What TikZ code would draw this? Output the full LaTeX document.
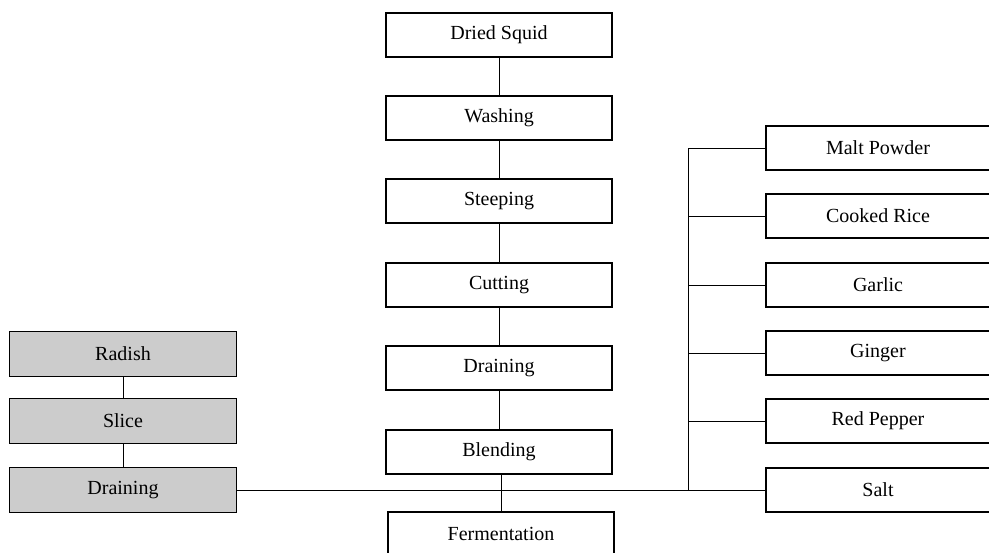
\documentclass[tikz,border=0pt]{standalone}
\usepackage{fontspec}
\setmainfont{Liberation Serif}
\usepackage{tikz}
\tikzset{
    every node/.style={font=\fontsize{15}{18}\selectfont},
    stagebox/.style={draw, rectangle, line width=0.9pt, minimum width=169.5pt, minimum height=33pt, inner sep=0pt},
    sidebox/.style={draw, rectangle, line width=0.9pt, fill=gray!40, minimum width=170pt, minimum height=34pt, inner sep=0pt},
    addbox/.style={draw, rectangle, line width=0.9pt, minimum width=168pt, minimum height=33pt, inner sep=0pt},
    link/.style={line width=0.7pt}
}

\begin{document}
\begin{tikzpicture}[x=0.75pt, y=-0.75pt]
        \useasboundingbox (0,0) rectangle (989,553);

        \node[stagebox] (squid) at (499,35) {Dried Squid};
        \node[stagebox] (washing) at (499,118) {Washing};
        \node[stagebox] (steeping) at (499,201) {Steeping};
        \node[stagebox] (cutting) at (499,285) {Cutting};
        \node[stagebox] (drain) at (499,368) {Draining};
        \node[stagebox] (blending) at (499,452) {Blending};
        \node[stagebox] (ferment) at (501,534) {Fermentation};

        \node[sidebox] (radish) at (123,354) {Radish};
        \node[sidebox] (slice) at (123,421) {Slice};
        \node[sidebox] (raddrain) at (123,490) {Draining};

        \node[addbox] (malt) at (878,148) {Malt Powder};
        \node[addbox] (rice) at (878,216) {Cooked Rice};
        \node[addbox] (garlic) at (878,285) {Garlic};
        \node[addbox] (ginger) at (878,353) {Ginger};
        \node[addbox] (pepper) at (878,421) {Red Pepper};
        \node[addbox] (salt) at (878,490) {Salt};

        \coordinate (bus) at (688,490);
        \coordinate (mix) at (501,490);

        \draw[link] (squid) -- (washing);
        \draw[link] (washing) -- (steeping);
        \draw[link] (steeping) -- (cutting);
        \draw[link] (cutting) -- (drain);
        \draw[link] (drain) -- (blending);
        \draw[link] (blending.south -| mix) -- (ferment);

        \draw[link] (radish) -- (slice);
        \draw[link] (slice) -- (raddrain);
        \draw[link] (raddrain) -- (salt);

        \draw[link] (malt.west) -| (bus);
        \draw[link] (rice.west) -- (rice.west -| bus);
        \draw[link] (garlic.west) -- (garlic.west -| bus);
        \draw[link] (ginger.west) -- (ginger.west -| bus);
        \draw[link] (pepper.west) -- (pepper.west -| bus);
    \end{tikzpicture}
\end{document}
